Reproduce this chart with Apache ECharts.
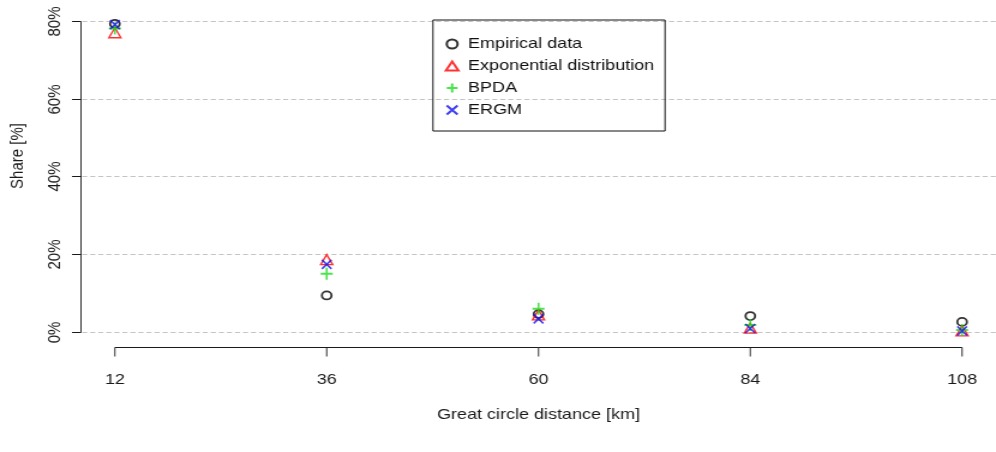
<!DOCTYPE html>
<html>
<head>
<meta charset="utf-8">
<script src="https://cdn.jsdelivr.net/npm/echarts@6/dist/echarts.min.js"></script>
<style>
html,body{margin:0;padding:0;background:#fff;overflow:hidden;}
#wrap{width:996px;height:452px;overflow:hidden;}
#chart{width:830px;height:452px;transform:scaleX(1.2);transform-origin:0 0;}
</style>
</head>
<body>
<div id="wrap"><div id="chart"></div></div>
<script>
// ---- data ----
const distances = [12, 36, 60, 84, 108];
const empirical = [79.2, 9.4, 4.6, 4.1, 2.6];
const exponential = [76.9, 18.6, 4.4, 1.0, 0.3];
const bpda = [78.0, 15.0, 6.0, 1.8, 0.5];
const ergm = [79.0, 17.4, 3.4, 0.9, 0.3];
const yTicks = [0, 20, 40, 60, 80];
const yTickLabels = ['0%', '20%', '40%', '60%', '80%'];
const xTicks = [12, 36, 60, 84, 108];
const xTickLabels = ['12', '36', '60', '84', '108'];
const seriesNames = ['Empirical data', 'Exponential distribution', 'BPDA', 'ERGM'];
const xTitle = 'Great circle distance [km]';
const yTitle = 'Share [%]';

const XMIN = 8.16, XMAX = 111.84, YMIN = -3.85, YMAX = 82.5;
const FONT = '"Liberation Sans", Arial, Helvetica, sans-serif';
const INK = '#1a1a1a';

function pairs(vals) { return distances.map((d, i) => [d, vals[i]]); }

const chart = echarts.init(document.getElementById('chart'), null, {renderer: 'canvas'});

function axesRender(params, api) {
  const ch = [];
  const c = (x, y) => api.coord([x, y]);
  const axX = c(XMIN, 0)[0];
  const axY = Math.round(c(0, YMIN)[1]) + 0.5;
  const rightEdge = c(XMAX, 0)[0] + 10;
  // grid lines
  yTicks.forEach(v => {
    const y = Math.round(c(XMIN, v)[1]) + 0.5;
    ch.push({type: 'line', shape: {x1: axX + 1, y1: y, x2: rightEdge, y2: y},
      style: {stroke: '#c4c4c4', lineWidth: 1, lineDash: [4.2, 2.5]}});
  });
  // y axis
  const yb = Math.round(c(XMIN, yTicks[0])[1]) + 0.5;
  const yt = Math.round(c(XMIN, yTicks[yTicks.length - 1])[1]) + 0.5;
  ch.push({type: 'line', shape: {x1: axX, y1: yb, x2: axX, y2: yt}, style: {stroke: INK, lineWidth: 0.9}});
  yTicks.forEach((v, i) => {
    const y = Math.round(c(XMIN, v)[1]) + 0.5;
    ch.push({type: 'line', shape: {x1: axX - 7.5, y1: y, x2: axX, y2: y}, style: {stroke: INK, lineWidth: 1}});
    ch.push({type: 'text', x: axX - 21.5, y: y, rotation: Math.PI / 2,
      style: {text: yTickLabels[i], fill: INK, font: '15px ' + FONT, align: 'center', verticalAlign: 'middle'}});
  });
  // x axis
  const xl = c(xTicks[0], 0)[0];
  const xr = c(xTicks[xTicks.length - 1], 0)[0];
  ch.push({type: 'line', shape: {x1: xl, y1: axY, x2: xr, y2: axY}, style: {stroke: INK, lineWidth: 1}});
  xTicks.forEach((v, i) => {
    const x = c(v, 0)[0];
    ch.push({type: 'line', shape: {x1: x, y1: axY, x2: x, y2: axY + 9}, style: {stroke: INK, lineWidth: 0.9}});
    ch.push({type: 'text', x: x, y: axY + 32,
      style: {text: xTickLabels[i], fill: INK, font: '15px ' + FONT, align: 'center', verticalAlign: 'middle'}});
  });
  // titles
  const midX = (c(XMIN, 0)[0] + c(XMAX, 0)[0]) / 2;
  ch.push({type: 'text', x: midX, y: axY + 67,
    style: {text: xTitle, fill: INK, font: '15px ' + FONT, align: 'center', verticalAlign: 'middle'}});
  ch.push({type: 'text', x: 15, y: 156, rotation: Math.PI / 2,
    style: {text: yTitle, fill: INK, font: '15px ' + FONT, align: 'center', verticalAlign: 'middle'}});
  return {type: 'group', children: ch};
}

const TRI = 'path://M5,0L10,8.66L0,8.66Z';
const PLUS = 'path://M5,0L5,10M0,5L10,5';
const CROSS = 'path://M0,0L10,10M0,10L10,0';

const option = {
  backgroundColor: '#fff',
  animation: false,
  grid: {left: 67.5, top: 11, width: 765, height: 336, containLabel: false},
  xAxis: {type: 'value', min: XMIN, max: XMAX, show: false},
  yAxis: {type: 'value', min: YMIN, max: YMAX, show: false},
  legend: {
    orient: 'vertical', left: 360.8, top: 20,
    data: seriesNames,
    borderColor: '#111', borderWidth: 1, borderRadius: 0,
    padding: [15, 9, 12, 9.8],
    itemWidth: 16.6, itemHeight: 9, itemGap: 4,
    textStyle: {fontFamily: FONT, fontSize: 15, color: '#111', lineHeight: 18},
    selectedMode: false
  },
  series: [
    {type: 'custom', name: 'axes', renderItem: axesRender, data: [[0, 0]], silent: true, z: 1, clip: false},
    {type: 'scatter', name: seriesNames[0], data: pairs(empirical), symbol: 'circle', symbolSize: 8, z: 3,
      itemStyle: {color: 'rgba(0,0,0,0)', borderColor: '#000', borderWidth: 1.8}},
    {type: 'scatter', name: seriesNames[1], data: pairs(exponential), symbol: TRI, symbolSize: 10, z: 4,
      itemStyle: {color: 'rgba(0,0,0,0)', borderColor: '#f00', borderWidth: 1.4}},
    {type: 'scatter', name: seriesNames[2], data: pairs(bpda), symbol: PLUS, symbolSize: [10, 12], z: 5,
      itemStyle: {color: 'rgba(0,0,0,0)', borderColor: '#1fdd1f', borderWidth: 1.8}},
    {type: 'scatter', name: seriesNames[3], data: pairs(ergm), symbol: CROSS, symbolSize: [8, 9], z: 6,
      itemStyle: {color: 'rgba(0,0,0,0)', borderColor: '#1010ee', borderWidth: 1.6}}
  ]
};
chart.setOption(option);
</script>
</body>
</html>
